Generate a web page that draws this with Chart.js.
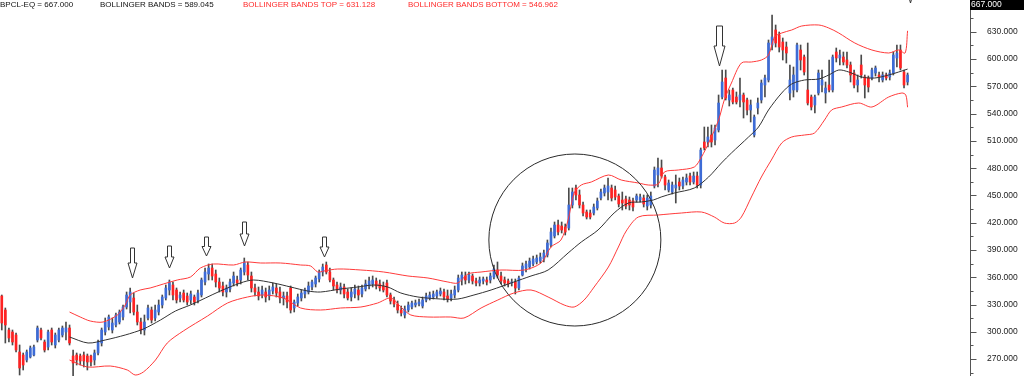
<!DOCTYPE html>
<html>
<head>
<meta charset="utf-8">
<script src="https://cdn.jsdelivr.net/npm/chart.js@4.4.0/dist/chart.umd.min.js"></script>
<style>
  html, body { margin: 0; padding: 0; background: #fff; }
  #wrap { width: 1024px; height: 376px; }
</style>
</head>
<body>
<div id="wrap"><canvas id="priceChart" width="1024" height="376"></canvas></div>
<script>
// daily OHLC (bar 0 = left edge)
const opens = [
  339.4, 324, 302, 299.8, 296.5, 277.8, 274.5, 269, 272.3, 274.5, 291, 302, 288.8, 283.3, 302, 285.5, 291, 296.5, 299.8, 304.2,
  273.4, 274.5, 273.4, 274.5, 273.4, 273.4, 269, 276.7, 287.7, 299.8, 305.3, 302, 307.5, 310.8, 316.3, 327.3, 332.8, 337.2, 321.8, 310.8,
  302, 315.2, 324, 315.2, 321.8, 329.5, 337.2, 346, 351.5, 346, 337.2, 342.7, 339.4, 335, 338.3, 335, 340.5, 354.8, 363.6, 370.2,
  363.6, 354.8, 350.4, 343.8, 347.1, 353.7, 357, 357, 365.8, 373.5, 361.4, 348.2, 343.8, 340.5, 343.8, 339.4, 344.9, 348.2, 343.8, 337.2,
  339.4, 348.2, 326.2, 331.7, 337.2, 341.6, 343.8, 349.3, 352.6, 358.1, 365.8, 373.5, 365.8, 357, 351.5, 346, 349.3, 343.8, 338.3, 341.6,
  346, 341.6, 347.1, 350.4, 352.6, 355.9, 352.6, 350.4, 353.7, 340.5, 335, 330.6, 324, 318.5, 324, 327.3, 329.5, 330.6, 328.4, 335,
  337.2, 338.3, 339.4, 341.6, 343.8, 339.4, 337.2, 340.5, 346, 357, 361.4, 357, 361.4, 355.9, 353.7, 355.9, 357, 357, 360.3, 368,
  361.4, 357, 355.9, 353.7, 354.8, 348.2, 362.5, 370.2, 371.3, 374.6, 376.8, 377.9, 380.1, 384.5, 395.5, 405.4, 417.5, 416.4, 415.3, 414.2,
  439.5, 458.2, 450.5, 439.5, 431.8, 430.7, 430.7, 436.2, 447.2, 452.7, 453.8, 458.2, 456, 449.4, 445, 446.1, 445, 443.9, 445, 445,
  447.2, 438.4, 439.5, 460.4, 472.5, 480.2, 470.3, 456, 453.8, 458.2, 464.8, 460.4, 464.8, 471.4, 464.8, 471.4, 461.5, 508.8, 508.8, 516.5,
  511, 522, 558.3, 579.2, 555, 566, 558.3, 555, 560.5, 555, 544, 516.5, 546.2, 555, 571.5, 577, 615.5, 632, 626.5, 618.8,
  613.3, 562.7, 566, 566, 610, 602.3, 566, 558.3, 549.5, 562.7, 571.5, 562.7, 571.5, 566, 607.8, 601.2, 602.3, 599, 593.5, 584.7,
  571.5, 593.5, 580.3, 579.2, 579.2, 584.7, 582.5, 577, 582.5, 580.3, 584.7, 601.2, 610, 585.8, 574.8
];
const highs = [
  340.5, 326.2, 304.2, 302, 298.7, 285.5, 276.7, 280, 284.4, 285.5, 306.4, 304.2, 291, 302, 304.2, 298.7, 304.2, 306.4, 310.8, 307.5,
  280, 276.7, 275.6, 277.8, 275.6, 274.5, 280, 291, 304.2, 315.2, 318.5, 315.2, 320.7, 324, 329.5, 343.8, 348.2, 342.7, 329.5, 315.2,
  318.5, 329.5, 327.3, 329.5, 335, 340.5, 351.5, 357, 354.8, 348.2, 343.8, 346, 342.7, 344.9, 340.5, 346, 359.2, 370.2, 374.6, 374.6,
  368, 359.2, 354.8, 351.5, 358.1, 365.8, 361.4, 370.2, 381.2, 376.8, 365.8, 352.6, 349.3, 350.4, 348.2, 350.4, 353.7, 352.6, 349.3, 343.8,
  343.8, 350.4, 335, 341.6, 346, 348.2, 354.8, 357, 361.4, 368, 374.6, 376.8, 370.2, 359.2, 354.8, 353.7, 352.6, 347.1, 348.2, 351.5,
  350.4, 351.5, 357, 360.3, 361.4, 359.2, 357, 354.8, 357, 342.7, 338.3, 333.9, 328.4, 328.4, 332.8, 333.9, 335, 336.1, 338.3, 342.7,
  343.8, 344.9, 346, 348.2, 347.1, 346, 346, 350.4, 362.5, 365.8, 365.8, 365.8, 363.6, 359.2, 360.3, 360.3, 360.3, 364.7, 373.5, 376.8,
  365.8, 360.3, 358.1, 358.1, 358.1, 361.4, 375.7, 377.9, 381.2, 383.4, 384.5, 386.7, 390, 401, 414.2, 420.8, 423, 420.8, 418.6, 458.2,
  458.2, 461.5, 456, 442.8, 434, 434, 440.6, 447.2, 457.1, 461.5, 469.2, 461.5, 460.4, 451.6, 453.8, 449.4, 448.3, 447.2, 451.6, 451.6,
  450.5, 450.5, 453.8, 481.3, 491.2, 489, 472.5, 467, 464.8, 472.5, 469.2, 470.3, 473.6, 474.7, 475.8, 475.8, 502.2, 525.3, 525.3, 527.5,
  527.5, 560.5, 588, 588, 566, 568.2, 563.8, 579.2, 562.7, 557.2, 555, 538.5, 557.2, 577, 582.5, 621, 648.5, 637.5, 629.8, 623.2,
  618.8, 593.5, 591.3, 617.7, 615.5, 604.5, 617.7, 560.5, 560.5, 588, 588, 574.8, 599, 604.5, 612.2, 610, 607.8, 607.8, 596.8, 588,
  582.5, 604.5, 582.5, 581.4, 590.2, 592.4, 585.8, 585.8, 584.7, 588, 607.8, 615.5, 615.5, 588, 584.7
];
const lows = [
  302, 287.7, 288.8, 285.5, 277.8, 252.5, 258, 266.8, 271.2, 273.4, 288.8, 291, 277.8, 280, 285.5, 282.2, 288.8, 294.3, 291, 285.5,
  250.3, 263.5, 263.5, 261.3, 258, 262.4, 263.5, 274.5, 284.4, 296.5, 302, 298.7, 305.3, 308.6, 313, 325.1, 320.7, 318.5, 307.5, 297.6,
  296.5, 313, 309.7, 311.9, 318.5, 326.2, 335, 340.5, 335, 331.7, 332.8, 332.8, 329.5, 330.6, 329.5, 331.7, 338.3, 351.5, 357, 357,
  349.3, 343.8, 339.4, 338.3, 343.8, 350.4, 350.4, 352.6, 362.5, 357, 343.8, 339.4, 335, 337.2, 332.8, 335, 341.6, 338.3, 331.7, 329.5,
  326.2, 320.7, 321.8, 328.4, 333.9, 337.2, 341.6, 346, 349.3, 354.8, 361.4, 363.6, 354.8, 346, 342.7, 341.6, 337.2, 335, 333.9, 337.2,
  335, 338.3, 344.9, 347.1, 349.3, 347.1, 344.9, 343.8, 338.3, 330.6, 327.3, 320.7, 317.4, 315.2, 321.8, 325.1, 327.3, 328.4, 326.2, 332.8,
  335, 336.1, 337.2, 339.4, 335, 332.8, 333.9, 337.2, 343.8, 351.5, 352.6, 353.7, 352.6, 350.4, 350.4, 352.6, 351.5, 353.7, 358.1, 359.2,
  352.6, 350.4, 349.3, 350.4, 341.6, 346, 361.4, 365.8, 369.1, 372.4, 374.6, 375.7, 376.8, 382.3, 393.3, 403.2, 406.5, 408.7, 406.5, 412,
  436.2, 445, 436.2, 427.4, 424.1, 424.1, 428.5, 434, 445, 449.4, 445, 443.9, 445, 437.3, 434, 435.1, 434, 432.9, 442.8, 442.8,
  437.3, 434, 436.2, 458.2, 459.3, 469.2, 456, 453.8, 451.6, 441.7, 456, 457.1, 461.5, 461.5, 462.6, 458.2, 458.2, 500, 503.3, 503.3,
  505.5, 519.8, 556.1, 555, 548.4, 550.6, 550.6, 547.3, 535.2, 538.5, 530.8, 514.3, 539.6, 551.7, 558.3, 574.8, 610, 613.3, 607.8, 599,
  595.7, 555, 558.3, 563.8, 588, 582.5, 549.5, 544, 540.7, 560.5, 563.8, 551.7, 563.8, 563.8, 596.8, 593.5, 593.5, 590.2, 574.8, 568.2,
  563.8, 579.2, 557.2, 563.8, 577, 581.4, 574.8, 574.8, 577, 577, 582.5, 591.3, 588, 568.2, 571.5
];
const closes = [
  309.7, 307.5, 293.2, 288.8, 280, 260.2, 263.5, 277.8, 282.2, 283.3, 304.2, 293.2, 280, 299.8, 288.8, 296.5, 302, 304.2, 304.2, 287.7,
  265.7, 269, 267.9, 267.9, 266.8, 266.8, 276.7, 288.8, 302, 310.8, 316.3, 309.7, 318.5, 321.8, 327.3, 340.5, 343.8, 321.8, 310.8, 302,
  310.8, 326.2, 313, 324, 329.5, 338.3, 348.2, 354.8, 340.5, 335, 340.5, 335, 332.8, 341.6, 332.8, 342.7, 357, 365.8, 370.2, 361.4,
  354.8, 348.2, 343.8, 348.2, 354.8, 361.4, 353.7, 368, 376.8, 362.5, 348.2, 343.8, 339.4, 346, 338.3, 346, 349.3, 342.7, 337.2, 339.4,
  332.8, 324, 332.8, 338.3, 342.7, 346, 350.4, 354.8, 359.2, 365.8, 371.3, 365.8, 357, 350.4, 346, 349.3, 341.6, 337.2, 343.8, 347.1,
  340.5, 348.2, 352.6, 355.9, 357, 350.4, 348.2, 346, 340.5, 333.9, 330.6, 324, 320.7, 325.1, 329.5, 331.7, 331.7, 332.8, 335, 339.4,
  340.5, 341.6, 343.8, 344.9, 338.3, 336.1, 341.6, 346, 359.2, 362.5, 357, 362.5, 355.9, 353.7, 357, 358.1, 354.8, 361.4, 369.1, 362.5,
  355.9, 353.7, 352.6, 354.8, 348.2, 359.2, 372.4, 374.6, 377.9, 380.1, 381.2, 382.3, 386.7, 397.7, 409.8, 417.5, 409.8, 412, 409.8, 439.5,
  453.8, 450.5, 439.5, 430.7, 426.3, 426.3, 437.3, 443.9, 453.8, 458.2, 460.4, 447.2, 448.3, 440.6, 441.7, 438.4, 439.5, 437.3, 449.4, 448.3,
  440.6, 447.2, 449.4, 478, 480.2, 471.4, 461.5, 463.7, 461.5, 461.5, 460.4, 467, 469.2, 464.8, 471.4, 461.5, 500, 502.2, 514.3, 508.8,
  524.2, 551.7, 574.8, 557.2, 560.5, 552.8, 552.8, 560.5, 552.8, 544, 549.5, 536.3, 551.7, 573.7, 579.2, 617.7, 624.3, 617.7, 613.3, 610,
  606.7, 577, 582.5, 615.5, 599, 585.8, 551.7, 547.3, 558.3, 584.7, 577, 568.2, 566, 602.3, 601.2, 604.5, 596.8, 593.5, 582.5, 571.5,
  577, 582.5, 571.5, 569.3, 588, 590.2, 580.3, 582.5, 579.2, 584.7, 604.5, 606.7, 590.2, 571.5, 582.5
];

// bollinger bands, sampled along the bar axis
const midX = [19, 24.2, 29, 34.6, 39.7, 44.5, 48.7, 52.9, 57.1, 61.3, 66.9, 70.6, 76.2, 81, 85.8, 89.4, 95, 99.8, 104.3, 108.2,
  111.9, 116.7, 123.1, 127.9, 132.4, 137.2, 143.6, 148.4, 153.2, 158.8, 162.5, 167.2, 171.7, 175.7, 179.3, 182.7, 184.9, 188.6, 194.2, 198.2,
  201.8, 204.6, 209.4, 212.2, 215, 218.7, 221.5, 225.1, 229.1, 231.9, 234.7, 237.5, 241.1, 244.8, 248.7, 251.5, 254];
const midBand = [294.3, 287.7, 291, 296.5, 303.1, 313, 322.9, 329.5, 337.2, 344.9, 353.7, 357, 353.7, 349.3, 344.9, 343.8, 347.1, 349.3, 351.5, 349.3,
  342.7, 338.3, 336.1, 336.1, 340.5, 346, 354.8, 361.4, 368, 386.7, 398.8, 412, 430.7, 441.7, 442.8, 445, 448.3, 452.7, 458.2, 470.3,
  485.7, 496.7, 514.3, 525.3, 544, 562.7, 572.6, 577, 578.1, 582.5, 588, 585.8, 580.3, 579.2, 582.5, 585.8, 589.0];

const topX = [19, 22, 24.8, 28.4, 32.4, 34.6, 36, 38.8, 41.6, 45.3, 49.2, 52.9, 55.7, 59.3, 65, 68.3, 72.6, 78.2, 83.8, 86.6,
  88.6, 90.3, 94.2, 100.7, 107.1, 113.9, 119.5, 125.1, 127.9, 130.7, 134.4, 140, 146.5, 151.2, 154, 156.8, 158.8, 160.5, 162.5, 165.3,
  170.1, 173.7, 178.5, 181.3, 184.1, 185.8, 189.7, 194.2, 196.2, 198.2, 201, 202.6, 204.6, 207.4, 210.2, 213, 215, 216.7, 218.7, 221.5,
  224.3, 229.1, 231.9, 234.7, 239.2, 244, 248.7, 251.5, 253.3, 254];
const topBand = [321.8, 316.3, 311.9, 310.8, 318.5, 329.5, 340.5, 346, 348.2, 352.6, 357, 360.3, 370.2, 374.6, 373.5, 376.8, 375.7, 375.7, 373.5, 372.4,
  365.8, 366.9, 369.1, 368, 365.8, 361.4, 359.2, 354.8, 353.7, 363.6, 365.8, 368, 368, 375.7, 393.3, 401, 423, 452.7, 461.5, 464.8,
  472.5, 467, 463.7, 461.5, 462.6, 475.8, 478, 481.3, 492.3, 507.7, 533, 555, 573.7, 595.7, 596.8, 599, 604.5, 624.3, 628.7, 632,
  636.4, 637.5, 634.2, 628.7, 617.7, 610, 606.7, 610, 606.7, 631.1];

const lowX = [19, 24, 30.4, 35.2, 37.4, 39.7, 43.1, 46.4, 50.9, 57.7, 63.3, 68.9, 73.4, 79, 83.8, 89.4, 95, 100.7, 105.4, 109.1,
  111.9, 114.7, 119.5, 125.9, 129.6, 134.4, 139.1, 143.6, 148.4, 153.2, 157.7, 160.5, 163.3, 166.1, 170.1, 172.9, 175.1, 178.5, 184.1, 190.6,
  196.2, 199.8, 202.6, 205.5, 207.4, 210.2, 213, 215.8, 218.7, 221.5, 225.1, 227.9, 230.7, 232.7, 235.5, 240.3, 244, 248.7, 252.4, 253.5, 254];
const lowBand = [269, 261.3, 262.4, 258, 252.5, 255.8, 269, 287.7, 300.9, 317.4, 331.7, 338.3, 340.5, 337.2, 326.2, 324, 326.2, 327.3, 331.7, 337.2,
  327.3, 318.5, 316.3, 316.3, 315.2, 326.2, 335, 342.7, 346, 338.3, 329.5, 327.3, 335, 349.3, 371.3, 393.3, 410.9, 426.3, 428.5, 430.7,
  431.8, 426.3, 419.7, 419.7, 426.3, 448.3, 470.3, 489, 507.7, 514.3, 516.5, 518.7, 533, 544, 547.3, 551.7, 547.3, 558.3, 562.7, 560.5, 547.0];

// header readout
const legendNames = ['BPCL-EQ', 'BOLLINGER BANDS', 'BOLLINGER BANDS TOP', 'BOLLINGER BANDS BOTTOM'];
const legendValues = [667.000, 589.045, 631.128, 546.962];
const lastPrice = 667.000;

// hand-drawn marks: arrows (bar, top value, tip value) and the circle
const arrowBar = [36.5, 47.0, 57.3, 68.0, 90.4, 201.2, 254.7];
const arrowTop = [392.2, 394.4, 404.3, 420.8, 404.3, 636.4, 705.7];
const arrowTip = [359.2, 370.2, 383.4, 394.4, 382.3, 592.4, 661.7];
const circleAt = [160.7, 401];

const SLOTS = 272;
const FONT = 'Arial, "Liberation Sans", sans-serif';

const idx = closes.map((_, i) => i);
const wickData = idx.map(i => ({ x: i, y: [lows[i], highs[i]] }));
const bodyData = idx.map(i => ({ x: i, y: [opens[i], closes[i]] }));
const bodyColors = idx.map(i => closes[i] >= opens[i] ? '#3d6bd6' : '#ff2222');
const pts = (xs, ys) => xs.map((x, k) => ({ x: x, y: ys[k] }));

function drawArrow(ctx, x, yTop, yTip) {
    const len = yTip - yTop;
    const head = len / 2;
    const sw = len > 35 ? 3 : 2;
    const hw = len > 35 ? 5.5 : 4.5;
    x = Math.round(x) + 0.5;
    ctx.beginPath();
    ctx.moveTo(x - sw, yTop);
    ctx.lineTo(x + sw, yTop);
    ctx.lineTo(x + sw, yTip - head);
    ctx.lineTo(x + hw, yTip - head);
    ctx.lineTo(x, yTip);
    ctx.lineTo(x - hw, yTip - head);
    ctx.lineTo(x - sw, yTip - head);
    ctx.closePath();
    ctx.fillStyle = '#fff';
    ctx.fill();
    ctx.stroke();
}

const overlay = {
    id: 'overlay',
    afterDraw(chart) {
        const { ctx, scales: { x, y }, chartArea } = chart;
        ctx.save();

        // circle around the breakout
        ctx.strokeStyle = '#2a2a2a';
        ctx.lineWidth = 1;
        ctx.beginPath();
        ctx.arc(x.getPixelForValue(circleAt[0]), y.getPixelForValue(circleAt[1]), 86, 0, Math.PI * 2);
        ctx.stroke();

        // arrows
        ctx.strokeStyle = '#333';
        arrowBar.forEach((b, k) => {
            drawArrow(ctx, x.getPixelForValue(b), y.getPixelForValue(arrowTop[k]), y.getPixelForValue(arrowTip[k]));
        });

        // axis tick marks (major every 30, minor every 15)
        const ax = chartArea.right + 0.5;
        ctx.strokeStyle = '#555';
        ctx.beginPath();
        for (let v = 255; v <= 660; v += 15) {
            const py = Math.round(y.getPixelForValue(v)) + 0.5;
            ctx.moveTo(ax, py);
            ctx.lineTo(ax + (v % 30 === 0 ? 6 : 3), py);
        }
        ctx.stroke();

        // last price box
        ctx.fillStyle = '#000';
        ctx.fillRect(chartArea.right, 0, chart.width - chartArea.right, 10);
        ctx.fillStyle = '#fff';
        ctx.font = '8.5px ' + FONT;
        ctx.textBaseline = 'middle';
        ctx.fillText(lastPrice.toFixed(3), chartArea.right + 1, 5);

        // header readout
        const xs = [0, 100, 243, 408];
        const cols = ['#111', '#111', '#ff2a2a', '#ff2a2a'];
        ctx.font = '8px ' + FONT;
        legendNames.forEach((n, k) => {
            ctx.fillStyle = cols[k];
            ctx.fillText(n + ' = ' + legendValues[k].toFixed(3), xs[k], 5);
        });
        ctx.restore();
    }
};

new Chart(document.getElementById('priceChart'), {
    type: 'bar',
    data: {
        datasets: [
            {
                type: 'line', label: 'mid', data: pts(midX, midBand),
                borderColor: '#333', borderWidth: 1, pointRadius: 0, tension: 0.3, order: 1
            },
            {
                type: 'line', label: 'top', data: pts(topX, topBand),
                borderColor: '#ff3a3a', borderWidth: 1, pointRadius: 0, tension: 0.3, order: 1
            },
            {
                type: 'line', label: 'bottom', data: pts(lowX, lowBand),
                borderColor: '#ff3a3a', borderWidth: 1, pointRadius: 0, tension: 0.3, order: 1
            },
            {
                label: 'body', data: bodyData, backgroundColor: bodyColors,
                barThickness: 2, grouped: false, borderWidth: 0, borderSkipped: false, order: 2
            },
            {
                label: 'range', data: wickData, backgroundColor: '#4a4a4a',
                barThickness: 1, grouped: false, borderWidth: 0, borderSkipped: false, order: 3
            }
        ]
    },
    options: {
        responsive: false,
        animation: false,
        devicePixelRatio: 1,
        layout: { padding: 0, autoPadding: false },
        plugins: { legend: { display: false }, tooltip: { enabled: false } },
        scales: {
            x: { type: 'linear', min: -0.5, max: SLOTS - 0.5, display: false, offset: false },
            y: {
                position: 'right',
                min: 251.4,
                max: 665,
                afterFit: s => { s.width = 54; s.paddingTop = 0; s.paddingBottom = 0; },
                border: { color: '#555', width: 1 },
                grid: { drawOnChartArea: false, drawTicks: false },
                ticks: {
                    stepSize: 15,
                    padding: 17,
                    autoSkip: false,
                    includeBounds: false,
                    color: '#222',
                    font: { family: FONT, size: 8.5 },
                    callback: v => (v % 30 === 0 && v < 640) ? v.toFixed(3) : ''
                }
            }
        }
    },
    plugins: [overlay]
});
</script>
</body>
</html>
